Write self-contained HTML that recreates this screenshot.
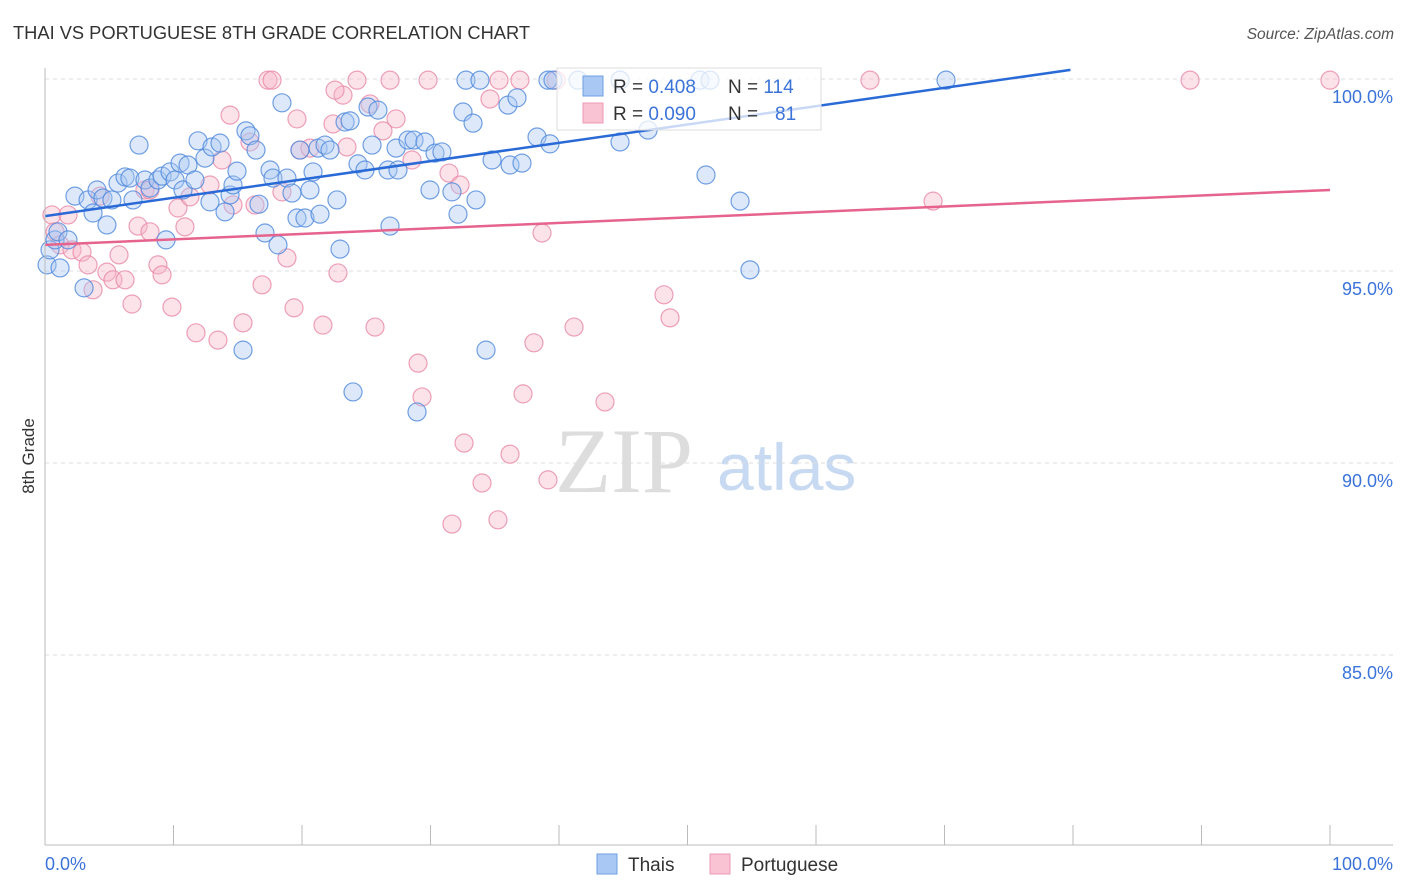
<!DOCTYPE html>
<html><head><meta charset="utf-8"><style>
body{margin:0;background:#fff;font-family:"Liberation Sans",sans-serif}
svg{display:block}
</style></head><body>
<svg id="c" width="1406" height="892">
<text x="13" y="39" font-size="18.3" fill="#333">THAI VS PORTUGUESE 8TH GRADE CORRELATION CHART</text>
<text x="1394" y="39" font-size="15.5" fill="#555" font-style="italic" text-anchor="end">Source: ZipAtlas.com</text>
<text x="34" y="456" font-size="17" fill="#333" text-anchor="middle" transform="rotate(-90 34 456)">8th Grade</text>
<g><text x="555" y="492" font-size="92" font-family="Liberation Serif,serif" fill="#ddd">ZIP</text><text x="717" y="490" font-size="66" fill="#c8daf2">atlas</text></g>
<g id="grid"></g><g id="pts"></g><g id="lines"></g>
<line x1="45" y1="68" x2="45" y2="845" stroke="#bbb"/>
<line x1="45" y1="845" x2="1393" y2="845" stroke="#bbb"/>
<text x="45" y="870" font-size="18" fill="#3b73d9">0.0%</text>
<text x="1393" y="870" font-size="18" fill="#3b73d9" text-anchor="end">100.0%</text>
<g>
<rect x="557" y="68" width="264" height="62" fill="#fff" fill-opacity="0.75" stroke="#ddd"/>
<rect x="583" y="76" width="20" height="20" fill="#a9c8f3" stroke="#6f9fe3"/>
<rect x="583" y="103" width="20" height="20" fill="#f9c3d3" stroke="#ee9ab4"/>
<text x="613" y="93" font-size="19" fill="#333">R = <tspan fill="#3b73d9">0.408</tspan><tspan x="728">N = </tspan><tspan fill="#3b73d9">114</tspan></text>
<text x="613" y="120" font-size="19" fill="#333">R = <tspan fill="#3b73d9">0.090</tspan><tspan x="728">N = </tspan><tspan fill="#3b73d9" x="775">81</tspan></text>
</g>
<g>
<rect x="597" y="854" width="20" height="20" fill="#a9c8f3" stroke="#6f9fe3"/>
<text x="628" y="871" font-size="19" fill="#333">Thais</text>
<rect x="710" y="854" width="20" height="20" fill="#f9c3d3" stroke="#ee9ab4"/>
<text x="741" y="871" font-size="19" fill="#333">Portuguese</text>
</g>
</svg>
<script>
const yTicks=[100,95,90,85];
const yTickLabels=["100.0%","95.0%","90.0%","85.0%"];
const xTicks=[0,10,20,30,40,50,60,70,80,90,100];
const thaisPx=[[47,265],[50,250],[55,240],[60,268],[58,232],[68,240],[75,196],[84,288],[88,200],[93,213],[97,190],[103,198],[107,225],[112,200],[118,183],[125,177],[130,178],[133,200],[139,145],[145,180],[150,188],[158,180],[162,176],[166,240],[170,172],[175,180],[180,163],[183,190],[188,165],[195,180],[198,141],[205,158],[210,202],[212,147],[220,143],[225,212],[230,195],[233,185],[237,171],[243,350],[246,131],[250,136],[256,150],[259,204],[265,233],[270,170],[273,178],[278,245],[282,103],[287,178],[292,193],[297,218],[300,150],[305,218],[310,190],[313,172],[318,148],[320,214],[325,145],[330,150],[337,200],[340,249],[345,122],[350,121],[353,392],[358,164],[365,170],[368,107],[372,145],[378,110],[388,170],[390,226],[396,148],[398,170],[408,140],[414,140],[417,412],[425,142],[430,190],[435,153],[442,152],[452,192],[458,214],[463,112],[466,80],[473,123],[476,200],[480,80],[486,350],[492,160],[508,105],[510,165],[517,98],[522,163],[537,137],[548,80],[550,144],[553,80],[578,80],[620,142],[648,130],[706,175],[740,201],[750,270],[946,80],[620,80],[700,80],[710,80]];
const portPx=[[52,215],[55,232],[60,245],[68,215],[72,250],[82,252],[88,265],[93,290],[100,196],[107,272],[113,280],[119,255],[125,280],[132,304],[138,226],[145,190],[150,232],[158,265],[162,275],[172,307],[178,208],[185,227],[190,197],[196,333],[210,185],[218,340],[222,160],[230,115],[233,205],[243,323],[250,142],[255,205],[262,285],[268,80],[272,80],[282,192],[287,258],[294,308],[297,119],[300,150],[310,148],[323,325],[333,124],[338,273],[343,95],[347,147],[357,80],[370,104],[375,327],[383,131],[390,80],[396,119],[412,160],[418,363],[422,397],[428,80],[449,173],[460,185],[464,443],[482,483],[490,99],[499,80],[510,454],[520,80],[523,394],[534,343],[542,233],[548,480],[556,80],[574,327],[605,402],[664,295],[670,318],[870,80],[933,201],[1190,80],[1330,80],[498,520],[452,524],[335,90],[150,190]];
const thaisX=thaisPx.map(p=>+((p[0]-45)/12.85).toFixed(2));
const thaisY=thaisPx.map(p=>+(100-(p[1]-79)/38.4).toFixed(2));
const portX=portPx.map(p=>+((p[0]-45)/12.85).toFixed(2));
const portY=portPx.map(p=>+(100-(p[1]-79)/38.4).toFixed(2));
const thaisTrend=[96.43,101.2];
const portTrend=[95.68,97.11];
const X=v=>45+v*12.85, Y=v=>79+(100-v)*38.4;
const NS="http://www.w3.org/2000/svg";
function mk(t,a,p){const e=document.createElementNS(NS,t);for(const k in a)e.setAttribute(k,a[k]);p.appendChild(e);return e;}
const grid=document.getElementById('grid');
yTicks.forEach((t,i)=>{
 const l=mk('line',{x1:45,x2:1393,y1:Y(t),y2:Y(t),stroke:'#ddd','stroke-dasharray':'4,4'},grid);
 
 
 const tx=mk('text',{x:1393,y:Y(t)+24,'font-size':18,fill:'#3b73d9','text-anchor':'end'},grid);
 tx.textContent=yTickLabels[i];
 
 
});
xTicks.forEach(t=>{
 const l=mk('line',{x1:X(t),x2:X(t),y1:825,y2:845,stroke:'#bbb'},grid);
 
 
});
const pts=document.getElementById('pts');
function series(xs,ys,fill,stroke,name){xs.forEach((x,i)=>{
 const c=mk('circle',{cx:X(x),cy:Y(ys[i]),r:9,fill:fill,'fill-opacity':0.4,stroke:stroke,'stroke-opacity':0.8,'stroke-width':1.2},pts);
 
 
});}
series(portX,portY,'#f7b6c9','#e98aa8','portuguese-point');
series(thaisX,thaisY,'#a9c8f3','#4f88dc','thais-point');
const lines=document.getElementById('lines');
const bl=mk('line',{x1:X(0),y1:Y(thaisTrend[0]),x2:X(79.8),y2:Y(thaisTrend[0]+(thaisTrend[1]-thaisTrend[0])*0.798),stroke:'#2a6ad6','stroke-width':2.5},lines);


const pl=mk('line',{x1:X(0),y1:Y(portTrend[0]),x2:X(100),y2:Y(portTrend[1]),stroke:'#e5638d','stroke-width':2.5},lines);


</script>
</body></html>
